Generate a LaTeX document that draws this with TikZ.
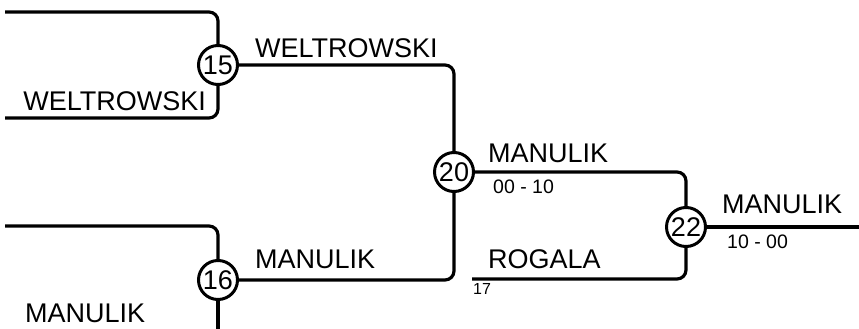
\documentclass[tikz,border=0pt]{standalone}
\usepackage{fontspec}
\setmainfont{Liberation Sans}

\tikzset{
    bracket/.style={line width=3.2pt, rounded corners=9pt},
    game/.style={circle, draw, line width=3pt, fill=white, minimum size=39pt, inner sep=0pt, font=\fontsize{27}{27}\selectfont},
    player/.style={inner sep=0pt, font=\fontsize{27}{27}\selectfont},
    score/.style={anchor=base west, inner sep=0pt, font=\fontsize{19.5}{19.5}\selectfont},
    seed/.style={anchor=base west, inner sep=0pt, font=\fontsize{16}{16}\selectfont},
}

\begin{document}
\begin{tikzpicture}[x=1pt, y=-1pt]
    \useasboundingbox (0,0) rectangle (859,329);

    % games
    \node[game] (g15) at (218,65) {15};
    \node[game] (g16) at (218,280) {16};
    \node[game] (g20) at (454,172) {20};
    \node[game] (g22) at (686,227) {22};

    % loose ends
    \coordinate (in1) at (5,12);
    \coordinate (in2) at (5,118);
    \coordinate (in3) at (5,226);
    \coordinate (in4) at (218,332);
    \coordinate (in17) at (472,279);
    \coordinate (out) at (860,227);

    \draw[bracket] (in1) -| (g15);
    \draw[bracket] (in2) -| (g15);
    \draw[bracket] (in3) -| (g16);
    \draw[bracket] (g16) -- (in4);
    \draw[bracket] (g15) -| (g20);
    \draw[bracket] (g16) -| (g20);
    \draw[bracket] (g20) -| (g22);
    \draw[bracket] (in17) -| (g22);
    \draw[bracket] (g22) -- (out);

    % names and scores
    \node[player, anchor=base east] (p1) at (206,110) {WELTROWSKI};
    \node[player, anchor=base west] (p15) at (255,57) {WELTROWSKI};
    \node[player, anchor=base west] (p16) at (255,268) {MANULIK};
    \node[player, anchor=base west] (p4) at (25,322) {MANULIK};
    \node[player, anchor=base west] (p20) at (488,162) {MANULIK};
    \node[score] (s20) at (493,193) {00 - 10};
    \node[player, anchor=base west] (p17) at (488,268) {ROGALA};
    \node[seed] (n17) at (473,294) {17};
    \node[player, anchor=base west] (p22) at (722,213) {MANULIK};
    \node[score] (s22) at (727,248) {10 - 00};
\end{tikzpicture}
\end{document}
